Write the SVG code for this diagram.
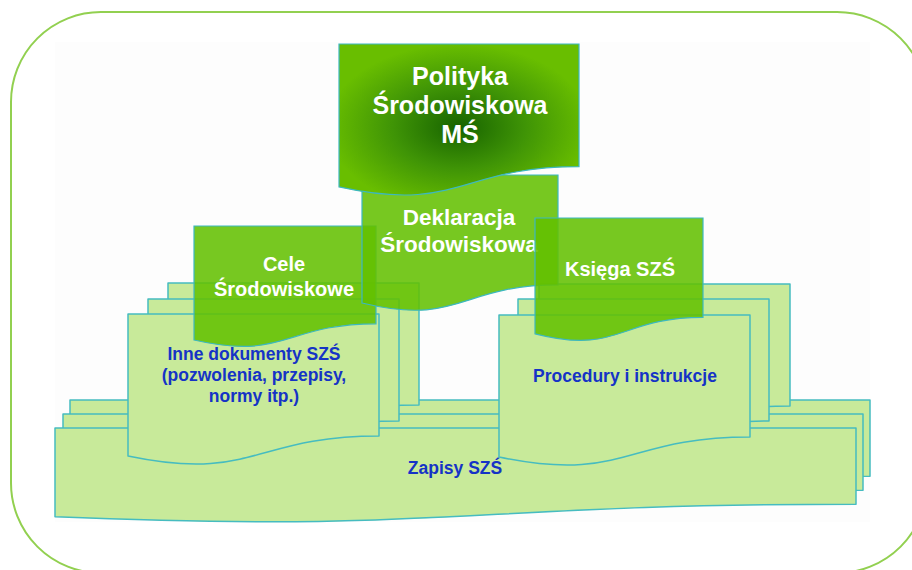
<svg xmlns="http://www.w3.org/2000/svg" width="912" height="570" viewBox="0 0 912 570">
  <defs>
    <radialGradient id="polGrad" cx="0.5" cy="0.55" r="0.55">
      <stop offset="0" stop-color="#176300"/>
      <stop offset="0.5" stop-color="#3f9406"/>
      <stop offset="1" stop-color="#69be00"/>
    </radialGradient>
    <style>
      .doc { fill: #c8ea9a; stroke: #46bcc0; stroke-width: 1.5; stroke-linejoin: round; }
      .dark { fill: #63c000; fill-opacity: 0.87; stroke: #3cb8c0; stroke-width: 1.2; }
      .pol { fill: url(#polGrad); stroke: #3cb8c0; stroke-width: 1.2; }
      .wt { font-family: "Liberation Sans", Arial, sans-serif; font-weight: bold; fill: #ffffff; text-anchor: middle; }
      .bt { font-family: "Liberation Sans", Arial, sans-serif; font-weight: bold; fill: #1533c6; text-anchor: middle; font-size: 17.5px; }
    </style>
  </defs>
  <rect x="0" y="0" width="912" height="570" fill="#ffffff"/>
  <rect x="11" y="12" width="916" height="561" rx="90" ry="90" fill="#ffffff" stroke="#92d050" stroke-width="2"/>
  <rect x="55" y="42" width="815" height="480" fill="#fdfdfd"/>

  <g id="zapisy">
    <path class="doc" d="M70,400 H870 V476.2 C470,476.2 470,505.2 70,488.7 Z"/>
    <path class="doc" d="M63,414 H863 V490.2 C463,490.2 463,519.2 63,502.7 Z"/>
    <path class="doc" d="M55,428 H856 V504.2 C455.5,504.2 455.5,533.2 55,516.7 Z"/>
    <text class="bt" x="455" y="474">Zapisy SZŚ</text>
  </g>

  <g id="inne">
    <path class="doc" d="M168,283 H419 V404.9 C293.5,404.9 293.5,451.3 168,425 Z"/>
    <path class="doc" d="M148,299 H399 V420.9 C273.5,420.9 273.5,467.3 148,441 Z"/>
    <path class="doc" d="M128,314 H379 V435.9 C253.5,435.9 253.5,482.3 128,456 Z"/>
    <text class="bt" x="254" y="360">Inne dokumenty SZŚ</text>
    <text class="bt" x="254" y="381">(pozwolenia, przepisy,</text>
    <text class="bt" x="254" y="402">normy itp.)</text>
  </g>

  <g id="procedury">
    <path class="doc" d="M539,284 H790 V405.9 C664.5,405.9 664.5,452.3 539,426 Z"/>
    <path class="doc" d="M518,299 H769 V420.9 C643.5,420.9 643.5,467.3 518,441 Z"/>
    <path class="doc" d="M499,315 H750 V436.9 C624.5,436.9 624.5,483.3 499,457 Z"/>
    <text class="bt" x="625" y="382">Procedury i instrukcje</text>
  </g>

  <g id="cele">
    <path class="dark" d="M194,226 H376 V323.8 C285,323.8 285,361.1 194,340 Z"/>
    <text class="wt" x="284" y="271" font-size="20">Cele</text>
    <text class="wt" x="284" y="296" font-size="20">Środowiskowe</text>
  </g>

  <g id="deklaracja">
    <path class="dark" d="M362,175 H558 V284.9 C460,284.9 460,326.7 362,303 Z"/>
    <text class="wt" x="459" y="225" font-size="22.5">Deklaracja</text>
    <text class="wt" x="459" y="252" font-size="22.5">Środowiskowa</text>
  </g>

  <g id="ksiega">
    <path class="dark" d="M535,218 H703 V317.4 C619,317.4 619,355.3 535,333.8 Z"/>
    <text class="wt" x="620" y="276" font-size="20">Księga SZŚ</text>
  </g>

  <g id="polityka">
    <path class="pol" d="M339,44 H579 V166.7 C459,166.7 459,213.4 339,186.9 Z"/>
    <text class="wt" x="460" y="85" font-size="25">Polityka</text>
    <text class="wt" x="460" y="114" font-size="25">Środowiskowa</text>
    <text class="wt" x="460" y="143" font-size="25">MŚ</text>
  </g>

  <g id="connectors"/>
</svg>
